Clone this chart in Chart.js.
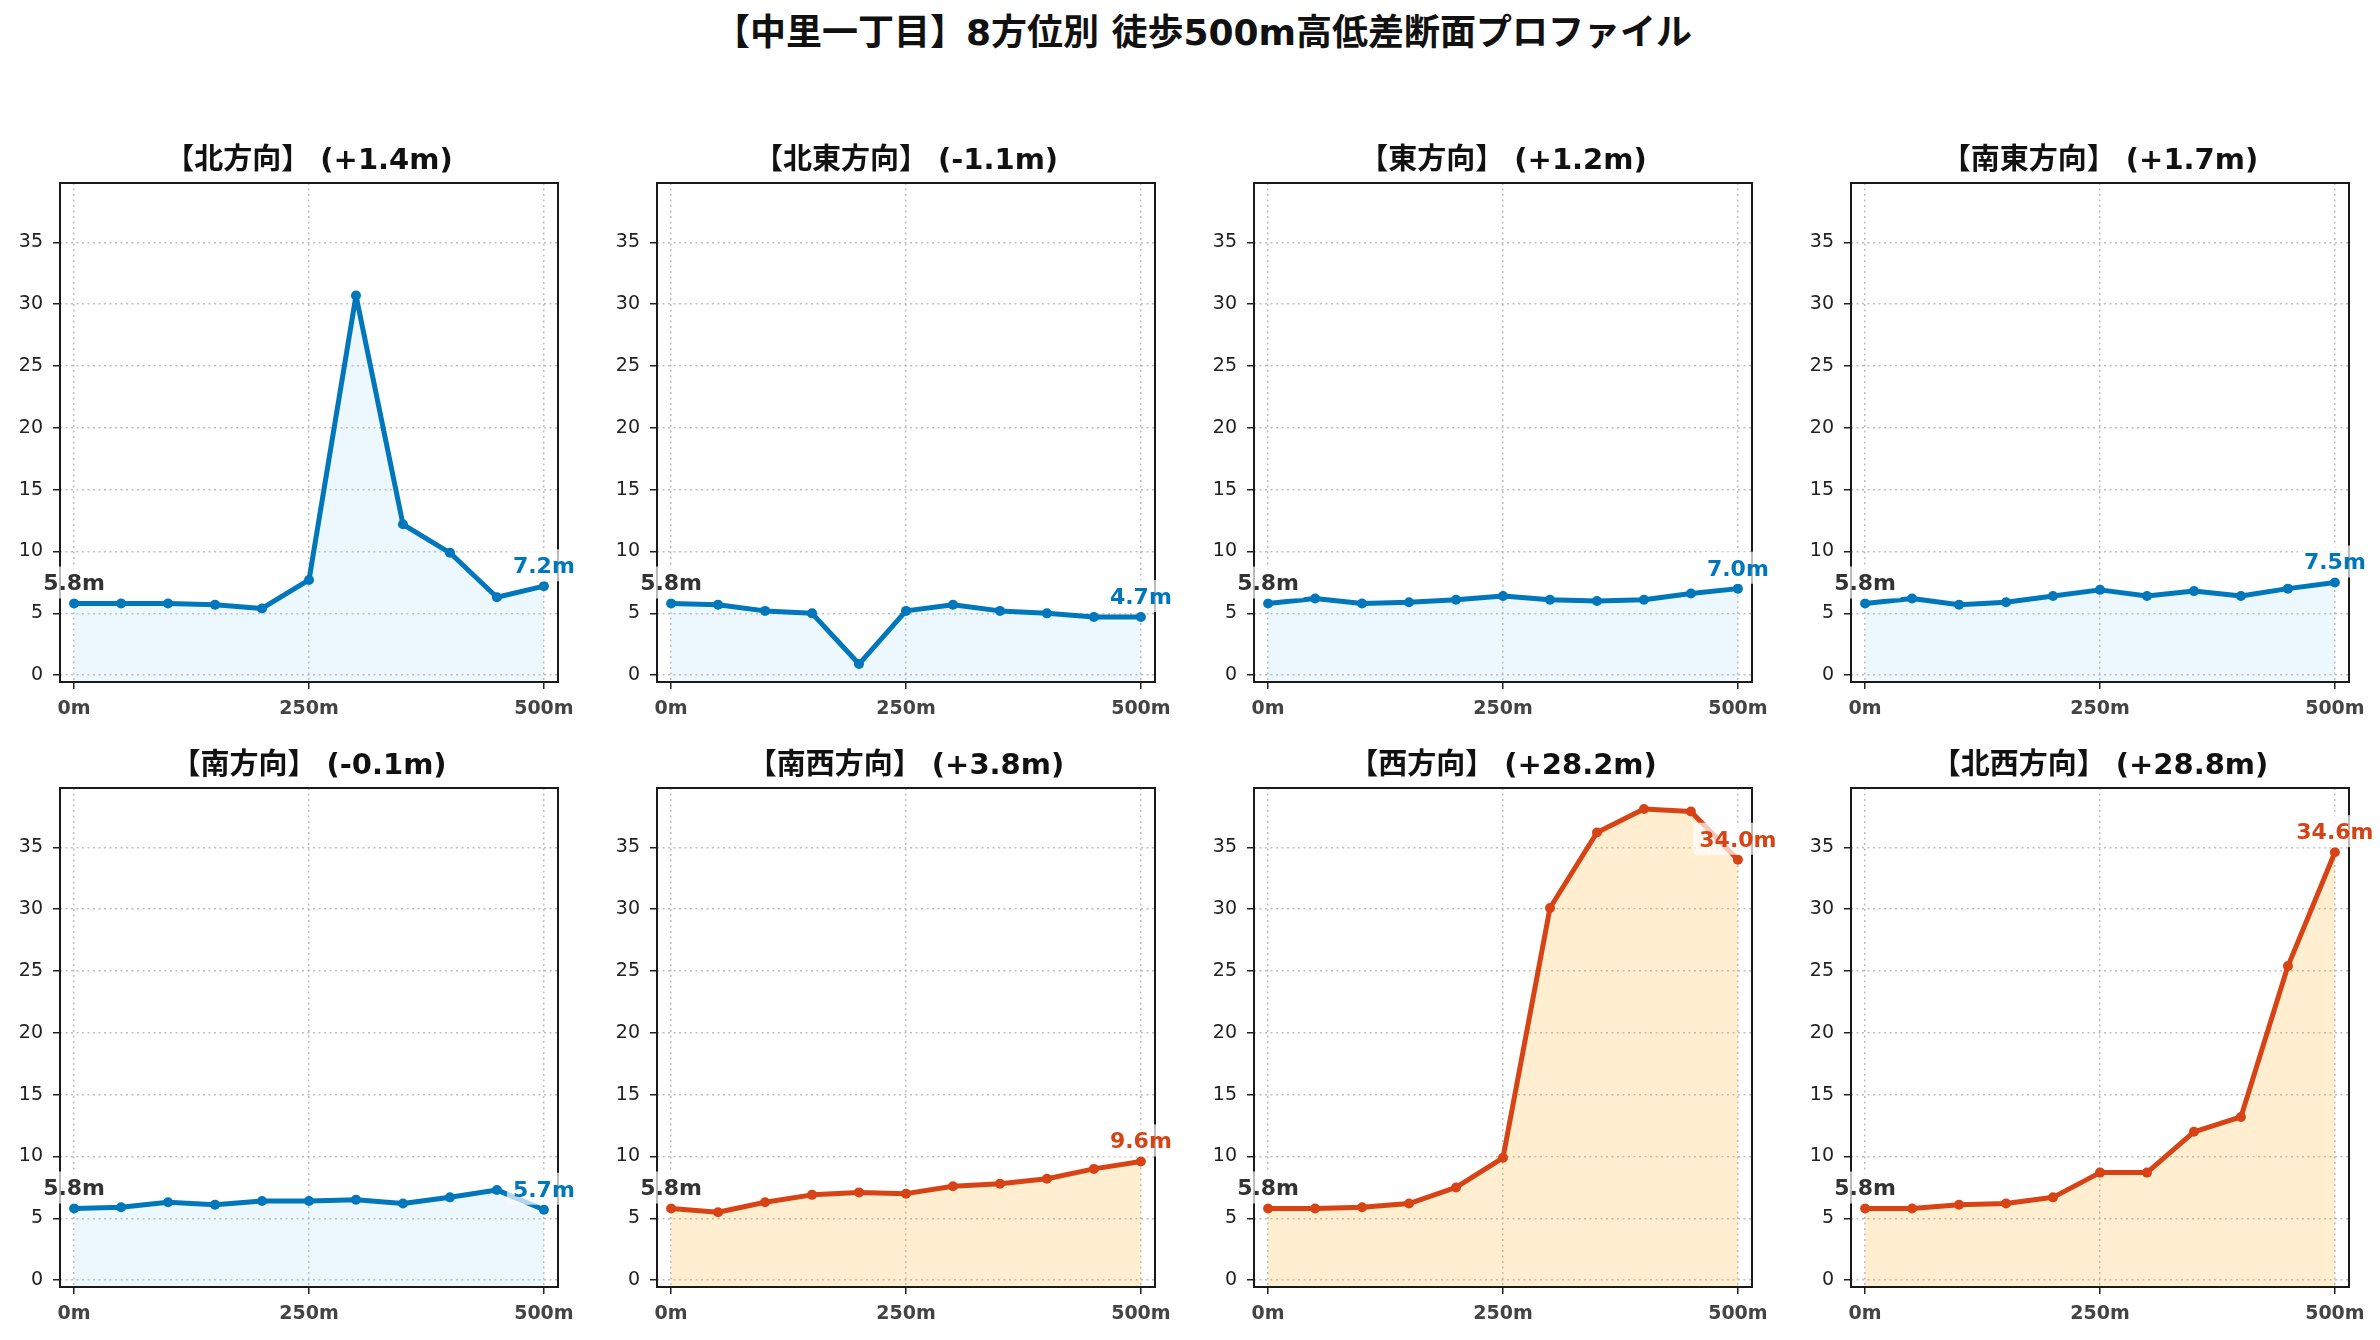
<!DOCTYPE html>
<html>
<head>
<meta charset="utf-8">
<script src="https://cdn.jsdelivr.net/npm/chart.js@4.4.1/dist/chart.umd.min.js"></script>
<style>
  body { margin: 0; background: #fff; width: 2380px; height: 1340px; position: relative; overflow: hidden;
         font-family: "DejaVu Sans", "Noto Sans CJK JP", sans-serif; }
  #title { position: absolute; top: 14px; left: 1203px; transform: translateX(-50%);
           font-weight: bold; font-size: 36px; line-height: 38px; white-space: nowrap; color: #111; }
  .panel { position: absolute; }
</style>
</head>
<body>
<div id="title">【中里一丁目】8方位別 徒歩500m高低差断面プロファイル</div>
<script>
// directions, distance along the walk (m) and elevation (m) per direction
const DIRECTIONS = ['北', '北東', '東', '南東', '南', '南西', '西', '北西'];
const DISTANCES = [0, 50, 100, 150, 200, 250, 300, 350, 400, 450, 500];

const ELEV_N  = [5.8, 5.8, 5.8, 5.7, 5.4, 7.7, 30.7, 12.2, 9.9, 6.3, 7.2];
const ELEV_NE = [5.8, 5.7, 5.2, 5.0, 0.9, 5.2, 5.7, 5.2, 5.0, 4.7, 4.7];
const ELEV_E  = [5.8, 6.2, 5.8, 5.9, 6.1, 6.4, 6.1, 6.0, 6.1, 6.6, 7.0];
const ELEV_SE = [5.8, 6.2, 5.7, 5.9, 6.4, 6.9, 6.4, 6.8, 6.4, 7.0, 7.5];
const ELEV_S  = [5.8, 5.9, 6.3, 6.1, 6.4, 6.4, 6.5, 6.2, 6.7, 7.3, 5.7];
const ELEV_SW = [5.8, 5.5, 6.3, 6.9, 7.1, 7.0, 7.6, 7.8, 8.2, 9.0, 9.6];
const ELEV_W  = [5.8, 5.8, 5.9, 6.2, 7.5, 9.9, 30.1, 36.2, 38.1, 37.9, 34.0];
const ELEV_NW = [5.8, 5.8, 6.1, 6.2, 6.7, 8.7, 8.7, 12.0, 13.2, 25.4, 34.6];

const SERIES = [ELEV_N, ELEV_NE, ELEV_E, ELEV_SE, ELEV_S, ELEV_SW, ELEV_W, ELEV_NW];
const X_TICKS = [0, 250, 500];
const Y_TICKS = [0, 5, 10, 15, 20, 25, 30, 35];

// layout (px)
const PLOT_LEFT = [60, 657, 1254, 1851];
const PLOT_TOP = [183, 788];
const PLOT_W = 498, PLOT_H = 499;
const AXIS_W = 60, TOP_PAD = 70, RIGHT_PAD = 42, AXIS_H = 50;

const FONT = '"DejaVu Sans", "Noto Sans CJK JP", sans-serif';
const BLUE = '#0077BB', RED = '#D84315';

function labelBox(ctx, text, x, y, color) {
  ctx.save();
  ctx.font = 'bold 22px ' + FONT;
  const w = ctx.measureText(text).width;
  const cy = y - 21;
  ctx.fillStyle = 'rgba(255,255,255,0.7)';
  ctx.beginPath();
  ctx.roundRect(x - w / 2 - 6, cy - 16, w + 12, 32, 4);
  ctx.fill();
  ctx.fillStyle = color;
  ctx.textAlign = 'center';
  ctx.textBaseline = 'alphabetic';
  ctx.fillText(text, x, cy + 8);
  ctx.restore();
}

SERIES.forEach((values, i) => {
  const col = i % 4, row = Math.floor(i / 4);
  const start = values[0], end = values[values.length - 1];
  const diff = end - start;
  const steep = diff >= 3;
  const lineColor = steep ? RED : BLUE;
  const fillColor = steep ? 'rgba(255,165,0,0.19)' : 'rgba(135,206,250,0.16)';
  const title = `【${DIRECTIONS[i]}方向】 (${diff >= 0 ? '+' : ''}${diff.toFixed(1)}m)`;

  const div = document.createElement('div');
  div.className = 'panel';
  const w = AXIS_W + PLOT_W + RIGHT_PAD, h = TOP_PAD + PLOT_H + AXIS_H;
  div.style.left = (PLOT_LEFT[col] - AXIS_W) + 'px';
  div.style.top = (PLOT_TOP[row] - TOP_PAD) + 'px';
  const canvas = document.createElement('canvas');
  canvas.width = w; canvas.height = h;
  canvas.style.width = w + 'px'; canvas.style.height = h + 'px';
  div.appendChild(canvas);
  document.body.appendChild(div);

  const decor = {
    id: 'decor' + i,
    afterDatasetsDraw(chart) {
      const { ctx, chartArea: a } = chart;
      ctx.save();
      ctx.strokeStyle = '#1a1a1a';
      ctx.lineWidth = 2;
      ctx.strokeRect(a.left, a.top, a.right - a.left, a.bottom - a.top);
      ctx.restore();
      const pts = chart.getDatasetMeta(0).data;
      const first = pts[0], last = pts[pts.length - 1];
      labelBox(ctx, start.toFixed(1) + 'm', first.x, first.y, '#333');
      labelBox(ctx, end.toFixed(1) + 'm', last.x, last.y, lineColor);
    },
    afterDraw(chart) {
      const { ctx, chartArea: a } = chart;
      ctx.save();
      ctx.font = 'bold 29px ' + FONT;
      ctx.fillStyle = '#111';
      ctx.textAlign = 'center';
      ctx.textBaseline = 'alphabetic';
      ctx.fillText(title, (a.left + a.right) / 2, a.top - 14);
      ctx.restore();
    }
  };

  const gridOpts = {
    color: 'rgba(170,170,170,0.75)', lineWidth: 1.5,
    drawTicks: true, tickLength: 7, tickColor: '#222', tickWidth: 1.5, tickBorderDash: []
  };

  new Chart(canvas.getContext('2d'), {
    type: 'line',
    data: {
      datasets: [{
        data: DISTANCES.map((d, k) => ({ x: d, y: values[k] })),
        borderColor: lineColor,
        backgroundColor: fillColor,
        borderWidth: 5,
        borderJoinStyle: 'round',
        borderCapStyle: 'round',
        pointRadius: 5,
        pointBorderWidth: 0,
        pointBackgroundColor: lineColor,
        fill: 'start',
        tension: 0
      }]
    },
    options: {
      responsive: false,
      animation: false,
      devicePixelRatio: 1,
      events: [],
      layout: { padding: { top: TOP_PAD, right: RIGHT_PAD, left: 0, bottom: 0 } },
      plugins: { legend: { display: false }, tooltip: { enabled: false }, title: { display: false } },
      scales: {
        x: {
          type: 'linear', min: -15, max: 515,
          afterBuildTicks: s => { s.ticks = X_TICKS.map(v => ({ value: v })); },
          afterFit: s => { s.height = AXIS_H; },
          grid: gridOpts,
          border: { display: false, dash: [2, 3.5] },
          ticks: {
            padding: 9, color: '#444', maxRotation: 0, autoSkip: false,
            font: { family: FONT, size: 19, weight: 'bold' },
            callback: v => v + 'm'
          }
        },
        y: {
          type: 'linear', min: -0.55, max: 39.8,
          afterBuildTicks: s => { s.ticks = Y_TICKS.map(v => ({ value: v })); },
          afterFit: s => { s.width = AXIS_W; },
          grid: gridOpts,
          border: { display: false, dash: [2, 3.5] },
          ticks: {
            padding: 10, color: '#222', autoSkip: false,
            font: { family: FONT, size: 19 }
          }
        }
      }
    },
    plugins: [decor]
  });
});
</script>
</body>
</html>
